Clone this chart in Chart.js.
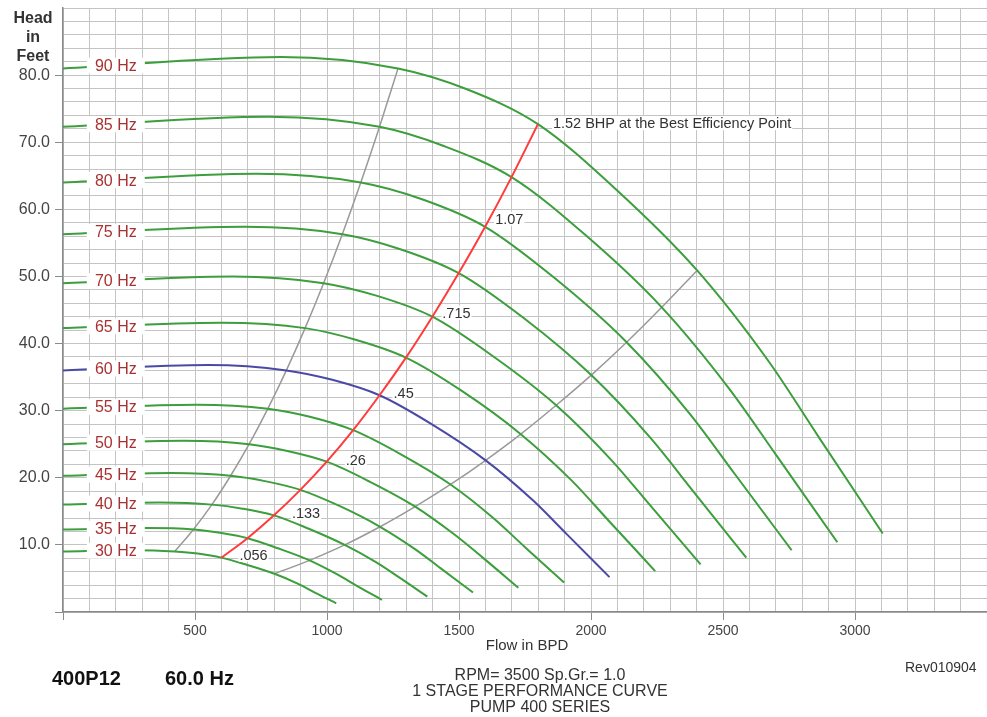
<!DOCTYPE html>
<html>
<head>
<meta charset="utf-8">
<script src="https://cdn.jsdelivr.net/npm/chart.js@4.4.0/dist/chart.umd.min.js"></script>
<style>
  html, body { margin: 0; padding: 0; background: #fff; }
  #wrap { position: relative; width: 987px; height: 717px; }
</style>
</head>
<body>
<div id="wrap"><canvas id="pumpChart" width="987" height="717"></canvas></div>
<script>
// Curve data
const hzLabels = [30, 35, 40, 45, 50, 55, 60, 65, 70, 75, 80, 85, 90];

const curveFlow = [
    [0, 275, 423, 510, 600, 698, 801, 891, 954, 1035],
    [0, 321, 494, 595, 699, 814, 934, 1039, 1113, 1208],
    [0, 367, 564, 680, 799, 931, 1067, 1187, 1272, 1380],
    [0, 413, 635, 765, 899, 1047, 1201, 1336, 1431, 1553],
    [0, 458, 705, 850, 999, 1163, 1334, 1484, 1590, 1725],
    [0, 504, 776, 935, 1099, 1280, 1468, 1633, 1749, 1898],
    [0, 550, 846, 1020, 1199, 1396, 1601, 1781, 1908, 2070],
    [0, 596, 917, 1105, 1299, 1512, 1734, 1929, 2067, 2243],
    [0, 642, 987, 1190, 1399, 1629, 1868, 2078, 2226, 2415],
    [0, 688, 1058, 1275, 1499, 1745, 2001, 2226, 2385, 2588],
    [0, 733, 1128, 1360, 1599, 1861, 2135, 2375, 2544, 2760],
    [0, 779, 1199, 1445, 1699, 1978, 2268, 2523, 2703, 2933],
    [0, 825, 1269, 1530, 1799, 2094, 2402, 2672, 2862, 3105]
];

const curveHead = [
    [9.0, 9.2, 9.0, 8.7, 8.1, 7.0, 5.7, 4.2, 2.9, 1.3],
    [12.3, 12.5, 12.3, 11.8, 11.0, 9.5, 7.7, 5.6, 3.9, 1.8],
    [16.0, 16.3, 16.0, 15.4, 14.4, 12.4, 10.0, 7.4, 5.2, 2.3],
    [20.3, 20.7, 20.3, 19.5, 18.2, 15.8, 12.7, 9.3, 6.5, 2.9],
    [25.0, 25.5, 25.0, 24.0, 22.4, 19.4, 15.7, 11.5, 8.1, 3.6],
    [30.3, 30.9, 30.3, 29.1, 27.1, 23.5, 19.0, 13.9, 9.7, 4.4],
    [36.0, 36.8, 36.0, 34.6, 32.3, 28.0, 22.6, 16.6, 11.6, 5.2],
    [42.3, 43.1, 42.3, 40.6, 37.9, 32.9, 26.5, 19.5, 13.6, 6.1],
    [49.0, 50.0, 49.0, 47.1, 44.0, 38.1, 30.8, 22.6, 15.8, 7.1],
    [56.3, 57.4, 56.3, 54.1, 50.5, 43.8, 35.3, 25.9, 18.1, 8.1],
    [64.0, 65.3, 64.0, 61.5, 57.4, 49.8, 40.2, 29.5, 20.6, 9.2],
    [72.3, 73.8, 72.3, 69.4, 64.8, 56.2, 45.4, 33.3, 23.3, 10.4],
    [81.0, 82.7, 81.0, 77.9, 72.7, 63.0, 50.9, 37.4, 26.1, 11.7]
];

// best efficiency point line (red)
const bepFlow = [600, 699, 799, 899, 999, 1099, 1199, 1299, 1399, 1499, 1599, 1699, 1799];
const bepHead = [8.1, 11.0, 14.4, 18.2, 22.4, 27.1, 32.3, 37.9, 44.0, 50.5, 57.4, 64.8, 72.7];
const bhpText = ['.056', '', '.133', '', '.26', '', '.45', '', '.715', '', '1.07', '', '1.52 BHP at the Best Efficiency Point'];

// operating range limits (gray)
const minFlow = [423, 494, 564, 635, 705, 776, 846, 917, 987, 1058, 1128, 1199, 1269];
const minHead = [9.0, 12.3, 16.0, 20.3, 25.0, 30.3, 36.0, 42.3, 49.0, 56.3, 64.0, 72.3, 81.0];
const maxFlow = [801, 934, 1067, 1201, 1334, 1468, 1601, 1734, 1868, 2001, 2135, 2268, 2402];
const maxHead = [5.7, 7.7, 10.0, 12.7, 15.7, 19.0, 22.6, 26.5, 30.8, 35.3, 40.2, 45.4, 50.9];

const flowTicks = [500, 1000, 1500, 2000, 2500, 3000];
const headTicks = [10, 20, 30, 40, 50, 60, 70, 80];

const FONT = "'Liberation Sans', Arial, sans-serif";
const pts = (xs, ys) => xs.map((x, i) => ({ x: x, y: ys[i] }));

const datasets = [];
datasets.push({
    label: 'BEP',
    data: pts(bepFlow, bepHead),
    borderColor: '#ff3b3b',
    borderWidth: 2,
    order: 1
});
datasets.push({
    label: 'min',
    data: pts(minFlow, minHead),
    borderColor: '#999999',
    borderWidth: 1.5,
    order: 3
});
datasets.push({
    label: 'max',
    data: pts(maxFlow, maxHead),
    borderColor: '#999999',
    borderWidth: 1.5,
    order: 3
});
hzLabels.forEach((hz, i) => {
    datasets.push({
        label: hz + ' Hz',
        data: pts(curveFlow[i], curveHead[i]),
        borderColor: hz === 60 ? '#4a4aa6' : '#3c9e3c',
        borderWidth: 2,
        order: 2
    });
});

const isMajor = (list, v) => v === 0 || list.includes(v);

// labels drawn on top of the curves
const labelPlugin = {
    id: 'pumpLabels',
    afterDatasetsDraw(chart) {
        const ctx = chart.ctx;
        const xs = chart.scales.x, ys = chart.scales.y;
        ctx.save();

        // frequency tags on the left
        ctx.font = '16px ' + FONT;
        ctx.textAlign = 'center';
        ctx.textBaseline = 'middle';
        hzLabels.forEach((hz, i) => {
            const f = curveFlow[i], h = curveHead[i];
            const yv = h[0] + (h[1] - h[0]) * (200 / f[1]);
            const px = xs.getPixelForValue(200);
            const py = ys.getPixelForValue(yv);
            ctx.fillStyle = '#fff';
            ctx.fillRect(px - 29, py - 8, 58, 16);
            ctx.fillStyle = '#a83232';
            ctx.fillText(hz + ' Hz', px, py + 1);
        });

        // horsepower notes along the BEP line
        const offs = { 0: [18, -3], 2: [18, -2], 4: [19, -2], 6: [14, -2], 8: [10, -4], 10: [10, -8], 12: [15, -1] };
        ctx.font = '14.5px ' + FONT;
        ctx.textAlign = 'left';
        bhpText.forEach((t, i) => {
            if (!t) return;
            const o = offs[i];
            const px = xs.getPixelForValue(bepFlow[i]) + o[0];
            const py = ys.getPixelForValue(bepHead[i]) + o[1];
            const w = ctx.measureText(t).width;
            ctx.fillStyle = '#fff';
            ctx.fillRect(px - 1, py - 7, w + 2, 14);
            ctx.fillStyle = '#333';
            ctx.fillText(t, px, py + 1);
        });
        ctx.restore();
    },
    afterDraw(chart) {
        const ctx = chart.ctx;
        ctx.save();
        ctx.fillStyle = '#333';
        ctx.textBaseline = 'middle';
        ctx.textAlign = 'center';

        ctx.font = 'bold 16px ' + FONT;
        ctx.fillText('Head', 33, 19);
        ctx.fillText('in', 33, 38);
        ctx.fillText('Feet', 33, 57);

        ctx.font = '15px ' + FONT;
        ctx.fillText('Flow in BPD', 527, 646);

        ctx.font = '16px ' + FONT;
        ctx.fillText('RPM= 3500 Sp.Gr.= 1.0', 540, 676);
        ctx.fillText('1 STAGE PERFORMANCE CURVE', 540, 692);
        ctx.fillText('PUMP 400 SERIES', 540, 708);

        ctx.textAlign = 'left';
        ctx.font = '14px ' + FONT;
        ctx.fillText('Rev010904', 905, 668);

        ctx.fillStyle = '#111';
        ctx.font = 'bold 20px ' + FONT;
        ctx.fillText('400P12', 52, 679);
        ctx.fillText('60.0 Hz', 165, 679);
        ctx.restore();
    }
};

new Chart(document.getElementById('pumpChart'), {
    type: 'scatter',
    data: { datasets: datasets },
    options: {
        responsive: false,
        animation: false,
        devicePixelRatio: 1,
        showLine: true,
        layout: { padding: { top: 8, right: -6, bottom: 0, left: 0 } },
        elements: {
            point: { radius: 0, hoverRadius: 0 },
            line: { cubicInterpolationMode: 'monotone', fill: false }
        },
        plugins: {
            legend: { display: false },
            tooltip: { enabled: false }
        },
        scales: {
            x: {
                type: 'linear',
                min: 0,
                max: 3500,
                afterFit(scale) {
                    scale.height = 105;
                    scale.paddingLeft = 0;
                    scale.paddingRight = 0;
                },
                border: { color: '#8a8a8a', width: 1.5 },
                grid: {
                    color: '#c4c4c4',
                    lineWidth: 1,
                    tickLength: 8,
                    tickColor: c => (c.tick && isMajor(flowTicks, c.tick.value)) ? '#8a8a8a' : 'rgba(0,0,0,0)'
                },
                ticks: {
                    stepSize: 100,
                    autoSkip: false,
                    maxRotation: 0,
                    padding: 3,
                    color: '#444',
                    font: { family: FONT, size: 14 },
                    callback: v => flowTicks.includes(v) ? String(v) : ''
                }
            },
            y: {
                type: 'linear',
                min: 0,
                max: 90,
                afterFit(scale) {
                    scale.width = 63;
                    scale.paddingTop = 0;
                    scale.paddingBottom = 0;
                },
                border: { color: '#8a8a8a', width: 1.5 },
                grid: {
                    color: '#c4c4c4',
                    lineWidth: 1,
                    tickLength: 8,
                    tickColor: c => (c.tick && isMajor(headTicks, c.tick.value)) ? '#8a8a8a' : 'rgba(0,0,0,0)'
                },
                ticks: {
                    stepSize: 2,
                    autoSkip: false,
                    padding: 5,
                    color: '#444',
                    font: { family: FONT, size: 16 },
                    callback: v => headTicks.includes(v) ? v.toFixed(1) : ''
                }
            }
        }
    },
    plugins: [labelPlugin]
});
</script>
</body>
</html>
